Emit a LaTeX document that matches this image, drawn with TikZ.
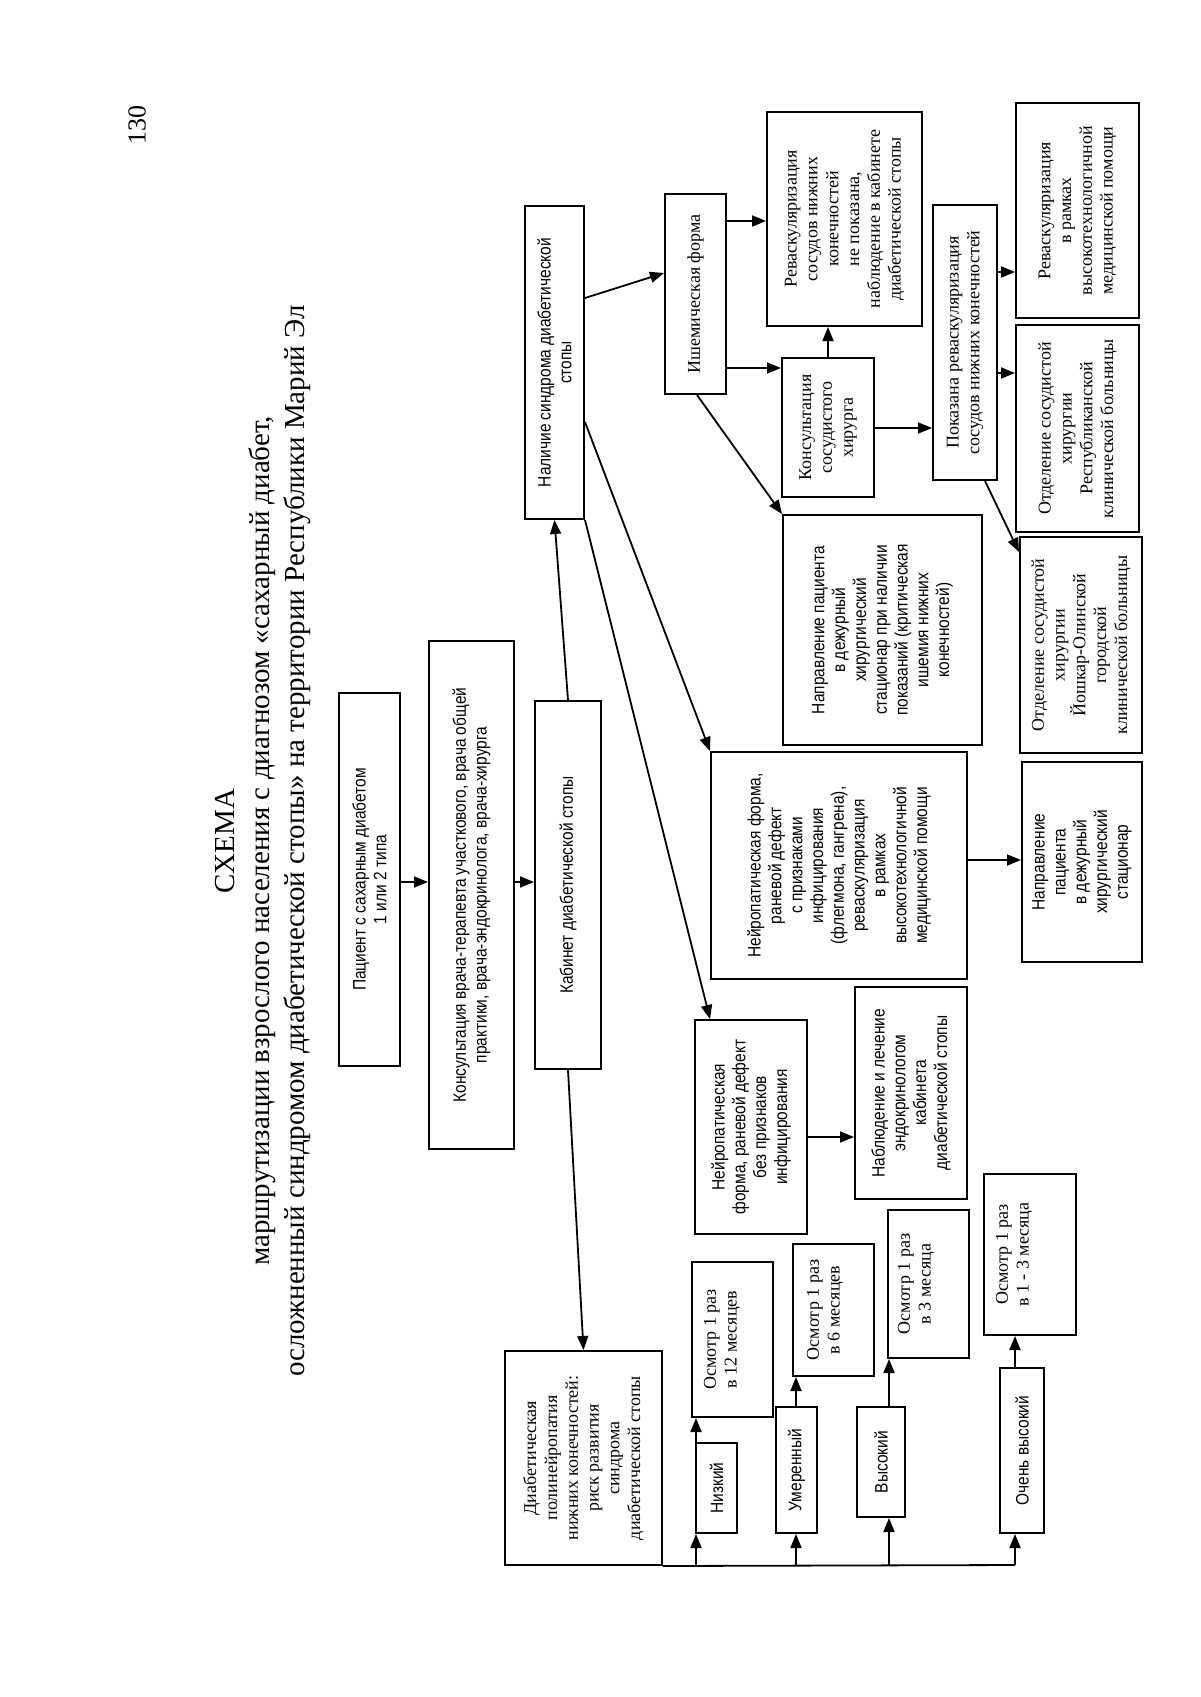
\documentclass[tikz,border=0pt]{standalone}
\usepackage{fontspec}
\setmainfont{Liberation Serif}
\newfontfamily\nsans[FakeStretch=0.86]{Liberation Sans}
\usetikzlibrary{arrows.meta}
\newcommand\mkbox[7]{\node[#2, minimum width={(#6-#5)*0.5pt}, minimum height={(#4-#3)*0.5pt}] (#1) at ({(#3+#4)/2},{(#5+#6)/2}) {#7};}
\newcommand\mkboxt[8]{\node[#2, minimum width={(#6-#5)*0.5pt}, minimum height={(#4-#3)*0.5pt}] (#1) at ({(#3+#4)/2},{(#5+#6)/2}) {};
\node[#2, draw=none] (#1t) at (#8,{(#5+#6)/2}) {#7};}
\tikzset{
 bxs/.style={draw, line width=1pt, rotate=90, inner sep=1pt, align=center, font=\fontsize{9}{10.4}\selectfont},
 bxn/.style={bxs, font=\nsans\fontsize{9}{10.4}\selectfont},
 arr/.style={line width=0.9pt, -{Triangle[length=7pt,width=5.5pt]}},
 ln/.style={line width=0.9pt},
}
\begin{document}
\begin{tikzpicture}[x=0.5pt,y=-0.5pt]
\fill[white] (0,0) rectangle (1200,1697);
\foreach \v in {221,272,273,298,368,373,422,428,515,552,860,882,1137,1565} {\coordinate (h\v) at (0,\v);}
\foreach \v in {696,697,710,796,889,985,1015} {\coordinate (v\v) at (\v,0);}

\node[rotate=90, font=\fontsize{13}{15}\selectfont] (pg) at (137,125) {130};
\node[rotate=90, align=center, font=\fontsize{14.5}{17.7}\selectfont] (title) at (263,841) {СХЕМА\\маршрутизации взрослого населения с диагнозом «сахарный диабет,\\осложненный синдромом диабетической стопы» на территории Республики Марий Эл};

\mkbox{pac}{bxn}{339}{400}{693}{1066}{Пациент с сахарным диабетом\\1 или 2 типа}
\mkbox{kons}{bxn}{429}{514}{641}{1149}{Консультация врача-терапевта участкового, врача общей\\практики, врача-эндокринолога, врача-хирурга}
\mkbox{kab}{bxn}{535}{601}{701}{1069}{Кабинет диабетической стопы}
\mkbox{nal}{bxn}{525}{584}{206}{519}{Наличие синдрома диабетической\\стопы}
\mkbox{ish}{bxs}{665}{726}{194}{394}{Ишемическая форма}
\mkbox{revnp}{bxs}{767}{922}{112}{326}{Реваскуляризация\\сосудов нижних\\конечностей\\не показана,\\наблюдение в кабинете\\диабетической стопы}
\mkbox{konss}{bxs}{782}{874}{358}{497}{Консультация\\сосудистого\\хирурга}
\mkbox{pokaz}{bxs}{933}{997}{205}{480}{Показана реваскуляризация\\сосудов нижних конечностей}
\mkbox{revvmp}{bxs}{1016}{1139}{103}{318}{Реваскуляризация\\в рамках\\высокотехнологичной\\медицинской помощи}
\mkbox{otdresp}{bxs}{1016}{1139}{325}{532}{Отделение сосудистой\\хирургии\\Республиканской\\клинической больницы}
\mkbox{napr}{bxn}{783}{982}{515}{745}{Направление пациента\\в дежурный\\хирургический\\стационар при наличии\\показаний (критическая\\ишемия нижних\\конечностей)}
\mkbox{otdyo}{bxs}{1020}{1142}{537}{753}{Отделение сосудистой\\хирургии\\Йошкар-Олинской\\городской\\клинической больницы}
\mkbox{neiroa}{bxn}{711}{967}{752}{979}{Нейропатическая форма,\\раневой дефект\\с признаками\\инфицирования\\(флегмона, гангрена),\\реваскуляризация\\в рамках\\высокотехнологичной\\медицинской помощи}
\mkbox{naprst}{bxn}{1022}{1142}{762}{962}{Направление\\пациента\\в дежурный\\хирургический\\стационар}
\mkbox{neirob}{bxn}{695}{807}{1020}{1234}{Нейропатическая\\форма, раневой дефект\\без признаков\\инфицирования}
\mkbox{nabl}{bxn}{855}{967}{987}{1199}{Наблюдение и лечение\\эндокринологом\\кабинета\\диабетической стопы}
\mkbox{diab}{bxs}{505}{662}{1351}{1565}{Диабетическая\\полинейропатия\\нижних конечностей:\\риск развития\\синдрома\\диабетической стопы}
\mkboxt{oa}{bxs}{692}{773}{1262}{1417}{Осмотр 1 раз\\в 12 месяцев}{722}
\mkbox{nizk}{bxn}{696}{737}{1443}{1533}{Низкий}
\mkboxt{ob}{bxs}{793}{874}{1244}{1376}{Осмотр 1 раз\\в 6 месяцев}{825}
\mkbox{umer}{bxn}{776}{817}{1407}{1533}{Умеренный}
\mkboxt{oc}{bxs}{888}{969}{1210}{1358}{Осмотр 1 раз\\в 3 месяца}{916}
\mkbox{vys}{bxn}{857}{905}{1407}{1517}{Высокий}
\mkboxt{od}{bxs}{984}{1076}{1174}{1335}{Осмотр 1 раз\\в 1 - 3 месяца}{1014}
\mkbox{ovys}{bxn}{1000}{1044}{1368}{1533}{Очень высокий}

\draw[arr] (pac.south |- h882) -- (kons.north |- h882);
\draw[arr] (kons.south |- h882) -- (kab.north |- h882);
\draw[arr] (kab.east) -- (nal.west);
\draw[arr] (nal.south |- h298) -- (ish.north |- h273);
\draw[arr] (nal.south |- h422) -- (neiroa.north east);
\draw[arr] (nal.south west) -- (v710 |- neirob.east);
\draw[arr] (kab.west) -- (diab.east);
\draw[arr] (ish.south |- h221) -- (revnp.north |- h221);
\draw[arr] (ish.south |- h368) -- (konss.north |- h368);
\draw[arr] (konss.east) -- (konss.east |- revnp.west);
\draw[arr] (konss.south |- h428) -- (pokaz.north |- h428);
\draw[arr] (v697 |- ish.west) -- (napr.north east);
\draw[arr] (pokaz.south |- h272) -- (revvmp.north |- h272);
\draw[arr] (pokaz.south |- h373) -- (otdresp.north |- h373);
\draw[arr] (v985 |- pokaz.west) -- (otdyo.north |- h552);
\draw[arr] (neiroa.south |- h860) -- (naprst.north |- h860);
\draw[arr] (neirob.south |- h1137) -- (nabl.north |- h1137);
\draw[ln] (diab.south west) -- (v1015 |- h1565);
\draw[arr] (v696 |- h1565) -- (v696 |- nizk.west);
\draw[arr] (v696 |- nizk.east) -- (v696 |- oa.west);
\draw[arr] (v796 |- h1565) -- (v796 |- umer.west);
\draw[arr] (v796 |- umer.east) -- (v796 |- ob.west);
\draw[arr] (v889 |- h1565) -- (v889 |- vys.west);
\draw[arr] (v889 |- vys.east) -- (v889 |- oc.west);
\draw[arr] (v1015 |- h1565) -- (v1015 |- ovys.west);
\draw[arr] (v1015 |- ovys.east) -- (v1015 |- od.west);
\end{tikzpicture}
\end{document}
